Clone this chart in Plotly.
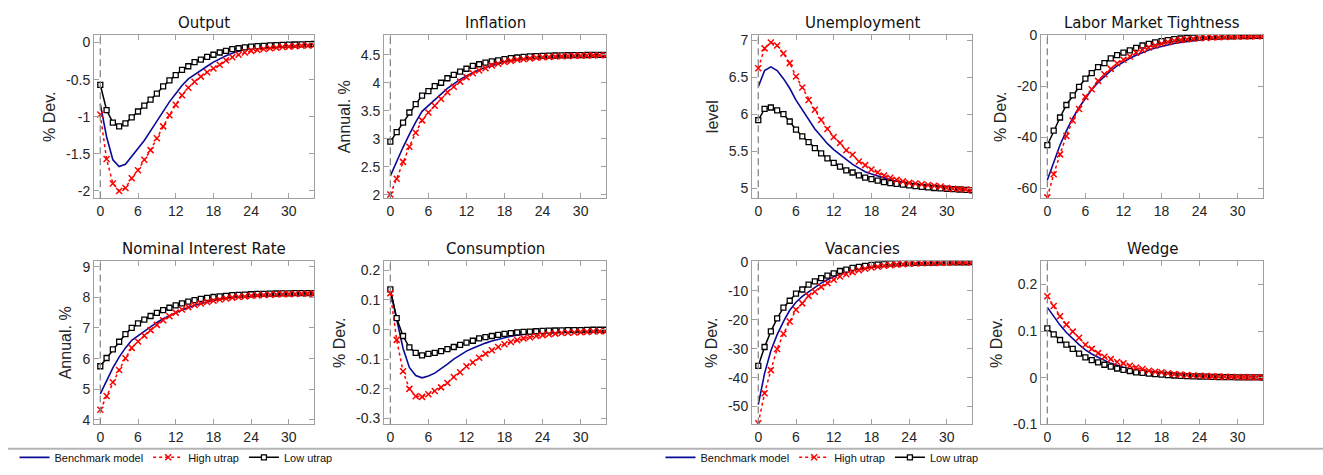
import plotly.graph_objects as go

t = list(range(35))

# ---------------- data ----------------
output_bench = [-0.83, -1.27, -1.58, -1.67, -1.64, -1.53, -1.43, -1.32, -1.19, -1.06, -0.93, -0.80, -0.69, -0.58, -0.49, -0.43, -0.37, -0.32, -0.265, -0.22, -0.18, -0.145, -0.113, -0.09, -0.075, -0.065, -0.057, -0.05, -0.045, -0.04, -0.036, -0.032, -0.03, -0.027, -0.025]
output_high = [-0.97, -1.57, -1.90, -2.00, -1.96, -1.83, -1.72, -1.58, -1.45, -1.29, -1.13, -0.98, -0.84, -0.71, -0.61, -0.53, -0.46, -0.40, -0.35, -0.30, -0.24, -0.20, -0.165, -0.135, -0.113, -0.10, -0.088, -0.078, -0.07, -0.062, -0.056, -0.05, -0.045, -0.04, -0.037]
output_low = [-0.57, -0.91, -1.08, -1.13, -1.09, -1.01, -0.93, -0.85, -0.77, -0.69, -0.59, -0.51, -0.44, -0.37, -0.32, -0.265, -0.23, -0.195, -0.165, -0.135, -0.113, -0.09, -0.078, -0.065, -0.056, -0.05, -0.045, -0.04, -0.035, -0.032, -0.03, -0.027, -0.025, -0.023, -0.02]

infl_bench = [2.34, 2.60, 2.85, 3.08, 3.30, 3.49, 3.59, 3.69, 3.79, 3.90, 3.98, 4.06, 4.12, 4.18, 4.23, 4.27, 4.31, 4.34, 4.37, 4.39, 4.41, 4.43, 4.44, 4.455, 4.465, 4.47, 4.477, 4.482, 4.486, 4.489, 4.49, 4.492, 4.493, 4.494, 4.495]
infl_high = [2.01, 2.29, 2.59, 2.86, 3.11, 3.33, 3.47, 3.59, 3.71, 3.83, 3.93, 4.02, 4.10, 4.17, 4.22, 4.26, 4.31, 4.34, 4.37, 4.39, 4.41, 4.42, 4.435, 4.445, 4.455, 4.46, 4.467, 4.472, 4.477, 4.48, 4.483, 4.486, 4.488, 4.49, 4.49]
infl_low = [2.95, 3.12, 3.29, 3.47, 3.62, 3.77, 3.85, 3.94, 4.00, 4.08, 4.14, 4.20, 4.25, 4.30, 4.33, 4.36, 4.38, 4.40, 4.42, 4.44, 4.45, 4.46, 4.47, 4.475, 4.48, 4.483, 4.486, 4.489, 4.49, 4.492, 4.494, 4.495, 4.496, 4.497, 4.498]

unemp_bench = [6.37, 6.59, 6.64, 6.59, 6.48, 6.35, 6.19, 6.06, 5.93, 5.80, 5.70, 5.60, 5.52, 5.45, 5.38, 5.32, 5.27, 5.22, 5.19, 5.16, 5.13, 5.11, 5.09, 5.07, 5.06, 5.05, 5.04, 5.03, 5.02, 5.01, 5.0, 4.995, 4.99, 4.985, 4.98]
unemp_high = [6.62, 6.89, 6.97, 6.93, 6.82, 6.69, 6.51, 6.36, 6.19, 6.06, 5.92, 5.80, 5.69, 5.61, 5.51, 5.45, 5.36, 5.31, 5.25, 5.21, 5.17, 5.14, 5.11, 5.09, 5.07, 5.06, 5.05, 5.04, 5.03, 5.02, 5.0, 4.99, 4.985, 4.98, 4.975]
unemp_low = [5.92, 6.07, 6.09, 6.05, 6.00, 5.90, 5.79, 5.70, 5.62, 5.54, 5.47, 5.40, 5.34, 5.29, 5.24, 5.21, 5.17, 5.14, 5.12, 5.10, 5.08, 5.065, 5.055, 5.045, 5.035, 5.025, 5.015, 5.01, 5.0, 4.995, 4.99, 4.985, 4.98, 4.975, 4.97]

lmt_bench = [-56.8, -49.5, -43.0, -37.5, -32.5, -28.3, -24.5, -21.2, -18.4, -15.9, -13.8, -11.9, -10.3, -8.9, -7.7, -6.6, -5.7, -4.9, -4.2, -3.6, -3.1, -2.7, -2.3, -2.0, -1.7, -1.45, -1.25, -1.07, -0.92, -0.79, -0.68, -0.58, -0.5, -0.43, -0.37]
lmt_high = [-63.6, -54.5, -46.7, -39.5, -33.4, -28.9, -24.1, -21.1, -17.8, -15.2, -13.1, -10.9, -9.5, -8.2, -6.7, -5.7, -4.7, -3.9, -3.2, -2.5, -2.0, -1.7, -1.45, -1.25, -1.05, -0.9, -0.78, -0.67, -0.58, -0.5, -0.43, -0.37, -0.32, -0.28, -0.24]
lmt_low = [-43.1, -37.4, -32.2, -27.3, -23.5, -20.2, -16.9, -14.8, -12.4, -10.8, -9.0, -7.7, -6.7, -5.8, -4.8, -3.9, -3.3, -2.7, -2.2, -1.8, -1.4, -1.15, -0.95, -0.8, -0.65, -0.55, -0.45, -0.38, -0.32, -0.27, -0.23, -0.2, -0.17, -0.15, -0.13]

rate_bench = [4.85, 5.30, 5.70, 6.05, 6.35, 6.60, 6.75, 6.90, 7.05, 7.18, 7.30, 7.40, 7.50, 7.59, 7.67, 7.74, 7.80, 7.85, 7.90, 7.94, 7.97, 8.00, 8.02, 8.04, 8.06, 8.07, 8.085, 8.095, 8.105, 8.11, 8.115, 8.12, 8.125, 8.13, 8.13]
rate_high = [4.33, 4.78, 5.23, 5.63, 6.01, 6.35, 6.56, 6.75, 6.93, 7.10, 7.25, 7.38, 7.50, 7.60, 7.68, 7.75, 7.80, 7.85, 7.89, 7.93, 7.96, 7.99, 8.01, 8.03, 8.05, 8.06, 8.075, 8.085, 8.095, 8.10, 8.105, 8.11, 8.115, 8.12, 8.12]
rate_low = [5.75, 6.02, 6.30, 6.55, 6.80, 7.00, 7.15, 7.27, 7.39, 7.49, 7.58, 7.66, 7.74, 7.80, 7.86, 7.91, 7.95, 7.98, 8.01, 8.03, 8.05, 8.07, 8.08, 8.09, 8.10, 8.11, 8.115, 8.12, 8.125, 8.13, 8.13, 8.135, 8.14, 8.14, 8.14]

cons_bench = [0.132, 0.035, -0.063, -0.128, -0.155, -0.163, -0.157, -0.147, -0.133, -0.117, -0.100, -0.085, -0.073, -0.063, -0.054, -0.046, -0.039, -0.033, -0.027, -0.023, -0.019, -0.016, -0.013, -0.011, -0.009, -0.0075, -0.0065, -0.0055, -0.0045, -0.004, -0.0035, -0.003, -0.0025, -0.002, -0.002]
cons_high = [0.122, -0.035, -0.141, -0.200, -0.225, -0.227, -0.218, -0.207, -0.195, -0.180, -0.160, -0.144, -0.124, -0.111, -0.095, -0.082, -0.070, -0.059, -0.050, -0.042, -0.036, -0.030, -0.026, -0.022, -0.019, -0.016, -0.014, -0.012, -0.011, -0.010, -0.009, -0.008, -0.007, -0.0065, -0.006]
cons_low = [0.135, 0.038, -0.022, -0.060, -0.079, -0.087, -0.082, -0.079, -0.073, -0.066, -0.059, -0.052, -0.044, -0.038, -0.030, -0.026, -0.022, -0.018, -0.015, -0.012, -0.010, -0.008, -0.007, -0.006, -0.005, -0.004, -0.0035, -0.003, -0.0025, -0.002, -0.002, -0.0015, -0.001, -0.001, -0.001]

vac_bench = [-49.3, -38.5, -30.7, -25.1, -20.6, -16.7, -13.9, -11.9, -10.3, -8.7, -7.3, -6.1, -5.0, -4.1, -3.35, -2.7, -2.2, -1.8, -1.45, -1.2, -0.98, -0.8, -0.66, -0.55, -0.46, -0.38, -0.32, -0.27, -0.22, -0.19, -0.16, -0.13, -0.11, -0.1, -0.08]
vac_high = [-55.8, -45.4, -37.4, -30.1, -24.8, -20.6, -16.5, -14.3, -11.7, -10.3, -8.6, -7.3, -6.1, -5.0, -4.2, -3.5, -2.8, -2.3, -1.9, -1.6, -1.3, -1.1, -0.9, -0.75, -0.62, -0.52, -0.43, -0.36, -0.3, -0.25, -0.21, -0.18, -0.15, -0.13, -0.11]
vac_low = [-35.9, -29.4, -24.0, -19.5, -15.8, -13.4, -10.9, -9.5, -7.8, -6.7, -5.6, -4.7, -3.9, -3.1, -2.6, -2.0, -1.7, -1.35, -1.0, -0.85, -0.7, -0.58, -0.48, -0.4, -0.33, -0.28, -0.23, -0.19, -0.16, -0.13, -0.11, -0.09, -0.08, -0.07, -0.06]

wedge_bench = [0.151, 0.131, 0.113, 0.097, 0.083, 0.071, 0.060, 0.051, 0.044, 0.0375, 0.031, 0.027, 0.022, 0.019, 0.016, 0.014, 0.012, 0.010, 0.0085, 0.0072, 0.006, 0.0052, 0.0044, 0.0037, 0.0032, 0.0027, 0.0023, 0.002, 0.0017, 0.0014, 0.0012, 0.001, 0.0009, 0.0008, 0.0007]
wedge_high = [0.175, 0.154, 0.132, 0.114, 0.099, 0.086, 0.071, 0.062, 0.053, 0.045, 0.040, 0.034, 0.031, 0.026, 0.022, 0.019, 0.015, 0.013, 0.012, 0.0097, 0.008, 0.007, 0.006, 0.005, 0.0043, 0.0037, 0.0031, 0.0027, 0.0023, 0.002, 0.0017, 0.0015, 0.0013, 0.0011, 0.001]
wedge_low = [0.106, 0.093, 0.081, 0.071, 0.062, 0.052, 0.044, 0.038, 0.033, 0.028, 0.024, 0.020, 0.017, 0.0146, 0.0118, 0.0104, 0.009, 0.0078, 0.0067, 0.0058, 0.005, 0.0043, 0.0037, 0.0032, 0.0028, 0.0024, 0.0021, 0.0018, 0.0015, 0.0013, 0.0011, 0.001, 0.0009, 0.0008, 0.0007]

titles = ["Output", "Inflation", "Unemployment", "Labor Market Tightness",
          "Nominal Interest Rate", "Consumption", "Vacancies", "Wedge"]
ylabels = ["% Dev.", "Annual. %", "level", "% Dev.",
           "Annual. %", "% Dev.", "% Dev.", "% Dev."]
series = [
    (output_bench, output_high, output_low),
    (infl_bench, infl_high, infl_low),
    (unemp_bench, unemp_high, unemp_low),
    (lmt_bench, lmt_high, lmt_low),
    (rate_bench, rate_high, rate_low),
    (cons_bench, cons_high, cons_low),
    (vac_bench, vac_high, vac_low),
    (wedge_bench, wedge_high, wedge_low),
]
yticks = [
    [0, -0.5, -1, -1.5, -2],
    [2, 2.5, 3, 3.5, 4, 4.5],
    [5, 5.5, 6, 6.5, 7],
    [0, -20, -40, -60],
    [4, 5, 6, 7, 8, 9],
    [0.2, 0.1, 0, -0.1, -0.2, -0.3],
    [0, -10, -20, -30, -40, -50],
    [0.2, 0.1, 0, -0.1],
]
yticktext = [
    ["0", "-0.5", "-1", "-1.5", "-2"],
    ["2", "2.5", "3", "3.5", "4", "4.5"],
    ["5", "5.5", "6", "6.5", "7"],
    ["0", "-20", "-40", "-60"],
    ["4", "5", "6", "7", "8", "9"],
    ["0.2", "0.1", "0", "-0.1", "-0.2", "-0.3"],
    ["0", "-10", "-20", "-30", "-40", "-50"],
    ["0.2", "0.1", "0", "-0.1"],
]
yranges = [[-2.1, 0.1], [1.94, 4.85], [4.86, 7.07], [-64, 0.2],
           [3.85, 9.18], [-0.32, 0.23], [-56.2, 0.3], [-0.1, 0.25]]
xticks = [0, 6, 12, 18, 24, 30]
names = ["Benchmark model", "High utrap", "Low utrap"]

# ---------------- layout geometry ----------------
W, H = 1323, 475
cols_px = [(94, 314), (384, 606), (752, 972), (1041, 1263)]
rows_px = [(28, 197), (262, 431)]

fig = go.Figure()
axcol = "#a0a0a0"
tickfont = dict(family="Liberation Sans, Arial, sans-serif", size=14, color="#262626")
annotations = []
shapes = []

for i in range(8):
    r, c = divmod(i, 4)
    x0, x1 = cols_px[c]
    y0, y1 = rows_px[r]
    k = i + 1
    xa = "x" if k == 1 else f"x{k}"
    ya = "y" if k == 1 else f"y{k}"
    group_legend = "legend" if c < 2 else "legend2"
    first_in_group = (i == 0) or (i == 2)
    bench, high, low = series[i]
    # draw order: benchmark, low, high
    fig.add_trace(go.Scatter(x=t, y=bench, mode="lines", name=names[0],
                             line=dict(color="#0a0a96", width=1.6),
                             xaxis=xa, yaxis=ya, legend=group_legend,
                             showlegend=first_in_group, legendrank=1))
    fig.add_trace(go.Scatter(x=t, y=low, mode="lines+markers", name=names[2],
                             line=dict(color="black", width=1.5),
                             marker=dict(symbol="square", size=5, color="white",
                                         line=dict(width=1.3, color="black")),
                             xaxis=xa, yaxis=ya, legend=group_legend,
                             showlegend=first_in_group, legendrank=3))
    fig.add_trace(go.Scatter(x=t, y=high, mode="lines+markers", name=names[1],
                             line=dict(color="#ff0000", width=1.5, dash="dot"),
                             marker=dict(symbol="x-thin-open", size=6, color="#ff0000",
                                         line=dict(width=1.5, color="#ff0000")),
                             xaxis=xa, yaxis=ya, legend=group_legend,
                             showlegend=first_in_group, legendrank=2))

    common = dict(showline=True, linecolor=axcol, linewidth=1, mirror="ticks",
                  ticks="inside", ticklen=5, tickcolor=axcol, showgrid=False,
                  zeroline=False, tickfont=tickfont)
    fig.layout[f"xaxis{k}"] = dict(domain=[x0 / W, x1 / W], anchor=ya,
                                   range=[-1, 34], tickvals=xticks, **common)
    fig.layout[f"yaxis{k}"] = dict(domain=[1 - y1 / H, 1 - y0 / H], anchor=xa,
                                   range=yranges[i], tickvals=yticks[i],
                                   ticktext=yticktext[i],
                                   title=dict(text=ylabels[i], standoff=6,
                                              font=dict(family="Liberation Sans, Arial, sans-serif",
                                                        size=16, color="#262626")),
                                   **common)
    annotations.append(dict(text=titles[i], xref="paper", yref="paper",
                            x=(x0 + x1) / 2 / W, y=1 - y0 / H, yshift=1,
                            xanchor="center", yanchor="bottom", showarrow=False,
                            font=dict(family="DejaVu Sans, sans-serif", size=15, color="#111")))
    shapes.append(dict(type="line", xref=xa, yref=f"{ya} domain", x0=0, x1=0,
                       y0=0, y1=1, line=dict(color="#8a8a8a", width=1.3, dash="7px,4px")))

# separator line above legends
shapes.append(dict(type="line", xref="paper", yref="paper", x0=8 / W, x1=1,
                   y0=1 - 456 / H, y1=1 - 456 / H, line=dict(color="#b4b4b4", width=2)))

legfont = dict(family="Liberation Sans, Arial, sans-serif", size=11, color="#111")
fig.update_layout(
    width=W, height=H,
    margin=dict(l=0, r=0, t=0, b=0),
    paper_bgcolor="white", plot_bgcolor="white",
    annotations=annotations, shapes=shapes,
    legend=dict(orientation="h", x=176 / W, y=1 - 465 / H, xanchor="center",
                yanchor="middle", font=legfont, bgcolor="rgba(0,0,0,0)",
                itemwidth=30, tracegroupgap=0),
    legend2=dict(orientation="h", x=822 / W, y=1 - 465 / H, xanchor="center",
                 yanchor="middle", font=legfont, bgcolor="rgba(0,0,0,0)",
                 itemwidth=30, tracegroupgap=0),
)

fig.write_html("out.html")
